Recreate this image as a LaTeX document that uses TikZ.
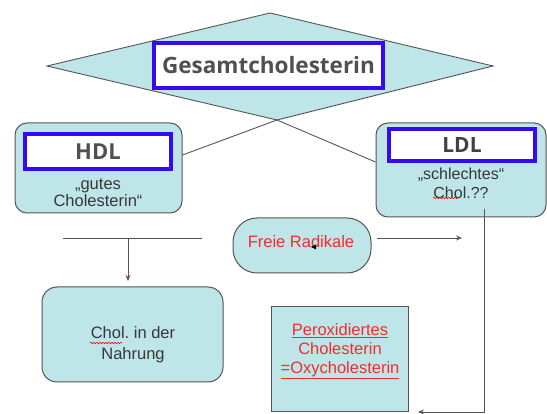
\documentclass[tikz,border=0pt]{standalone}
\usepackage{fontspec}
\setmainfont{Liberation Sans}
\newfontfamily\headfont{Open Sans}
\usetikzlibrary{arrows.meta,decorations.pathmorphing}
\definecolor{boxfill}{RGB}{190,229,232}
\definecolor{boxline}{RGB}{85,85,85}
\definecolor{bluebox}{RGB}{55,10,245}
\definecolor{txt}{RGB}{55,55,55}
\definecolor{redtxt}{RGB}{240,45,45}
\frenchspacing
\tikzset{
  cbox/.style={draw=boxline, line width=1pt, fill=boxfill, inner sep=0pt},
  bbox/.style={draw=bluebox, line width=4pt, fill=white, inner sep=0pt, text=txt},
  small/.style={font=\fontsize{16.5}{18}\selectfont, text=txt, align=center, inner sep=0pt},
  conn/.style={draw=boxline, line width=0.9pt},
  arr/.style={conn, -{Stealth[length=6pt,width=5pt]}},
  squig/.style={draw=red, line width=0.6pt, decorate, decoration={snake, amplitude=0.7pt, segment length=3pt}}
}
\begin{document}
\begin{tikzpicture}[x=1pt,y=-1pt]
\useasboundingbox (0,0) rectangle (547,414);
% diamond
\coordinate (dN) at (270,13);
\coordinate (dW) at (47,66);
\coordinate (dE) at (493,66);
\coordinate (dS) at (277,120);
\fill[boxfill] (dW) -- (dN) -- (dE) -- (dS) -- cycle;
\draw[boxline, line width=0.9pt] (dW) -- (dN) -- (dE) -- (dS) -- cycle;
\node[bbox, minimum width=229pt, minimum height=45pt,
      font=\headfont\bfseries\fontsize{22.5}{26}\selectfont, text={rgb,255:red,80;green,80;blue,80}]
      (ges) at (268.5,65.5) {Gesamtcholesterin};

% HDL
\node[cbox, rounded corners=12pt, minimum width=167pt, minimum height=90pt] (hdl) at (98.5,168) {};
\node[bbox, minimum width=146pt, minimum height=35pt,
      font=\headfont\bfseries\fontsize{22}{24}\selectfont, text={rgb,255:red,80;green,80;blue,80}]
      (hdlt) at (98,151.5) {HDL};
\node[small, font=\fontsize{16.5}{17}\selectfont] (hdltxt) at (98,193) {„gutes\\Cholesterin“};

% LDL
\node[cbox, rounded corners=12pt, minimum width=170pt, minimum height=94pt] (ldl) at (461,170) {};
\node[bbox, minimum width=146pt, minimum height=32pt,
      font=\headfont\bfseries\fontsize{21}{24}\selectfont, text={rgb,255:red,65;green,65;blue,65}]
      (ldlt) at (462,145) {LDL};
\node[small, font=\fontsize{16}{19}\selectfont] (ldltxt) at (461,183) {„schlechtes“\\Chol.??};
\coordinate (sq1a) at (433,198);
\coordinate (sq1b) at (459,198);
\draw[squig] (sq1a) -- (sq1b);

% connectors to diamond
\draw[conn] ([yshift=13pt]hdl.east) -- (dS);
\draw[conn] ([yshift=8pt]ldl.west) -- (dS);

% Freie Radikale
\node[cbox, rounded corners=24pt, minimum width=138pt, minimum height=55pt] (frei) at (302,245.5) {};
\node[small, text=redtxt] (freitxt) at (301,242) {Freie Radikale};
\fill[black] (311,247) -- (316,244.5) -- (316,249.5) -- cycle;

% Chol in der Nahrung
\node[cbox, rounded corners=15pt, minimum width=181pt, minimum height=95pt] (chol) at (132.5,334.5) {};
\node[small, font=\fontsize{16.5}{21}\selectfont] (choltxt) at (133,345) {Chol. in der\\Nahrung};
\coordinate (sq2a) at (90,343);
\coordinate (sq2b) at (122,343);
\draw[squig] (sq2a) -- (sq2b);

% Peroxidiertes
\node[cbox, minimum width=137pt, minimum height=105pt] (perox) at (339.5,359.5) {};
\node[small, text=redtxt, font=\fontsize{16.5}{19}\selectfont] (peroxtxt) at (340,351)
  {\underline{Peroxidiertes}\\Cholesterin\\\underline{=Oxycholesterin}};

% lines and arrows
\coordinate (hl) at (63,238);
\coordinate (hr) at (202,238);
\coordinate (hj) at (128,238);
\coordinate (ht) at (128,281);
\draw[conn] (hl) -- (hr);
\draw[arr] (hj) -- (ht);
\coordinate (ra) at (377,238);
\coordinate (rb) at (462,238);
\draw[arr] (ra) -- (rb);
\coordinate (v1) at (484,209);
\coordinate (v2) at (484,412);
\coordinate (v3) at (418,412);
\draw[arr] (v1) -- (v2) -- (v3);
\end{tikzpicture}
\end{document}
